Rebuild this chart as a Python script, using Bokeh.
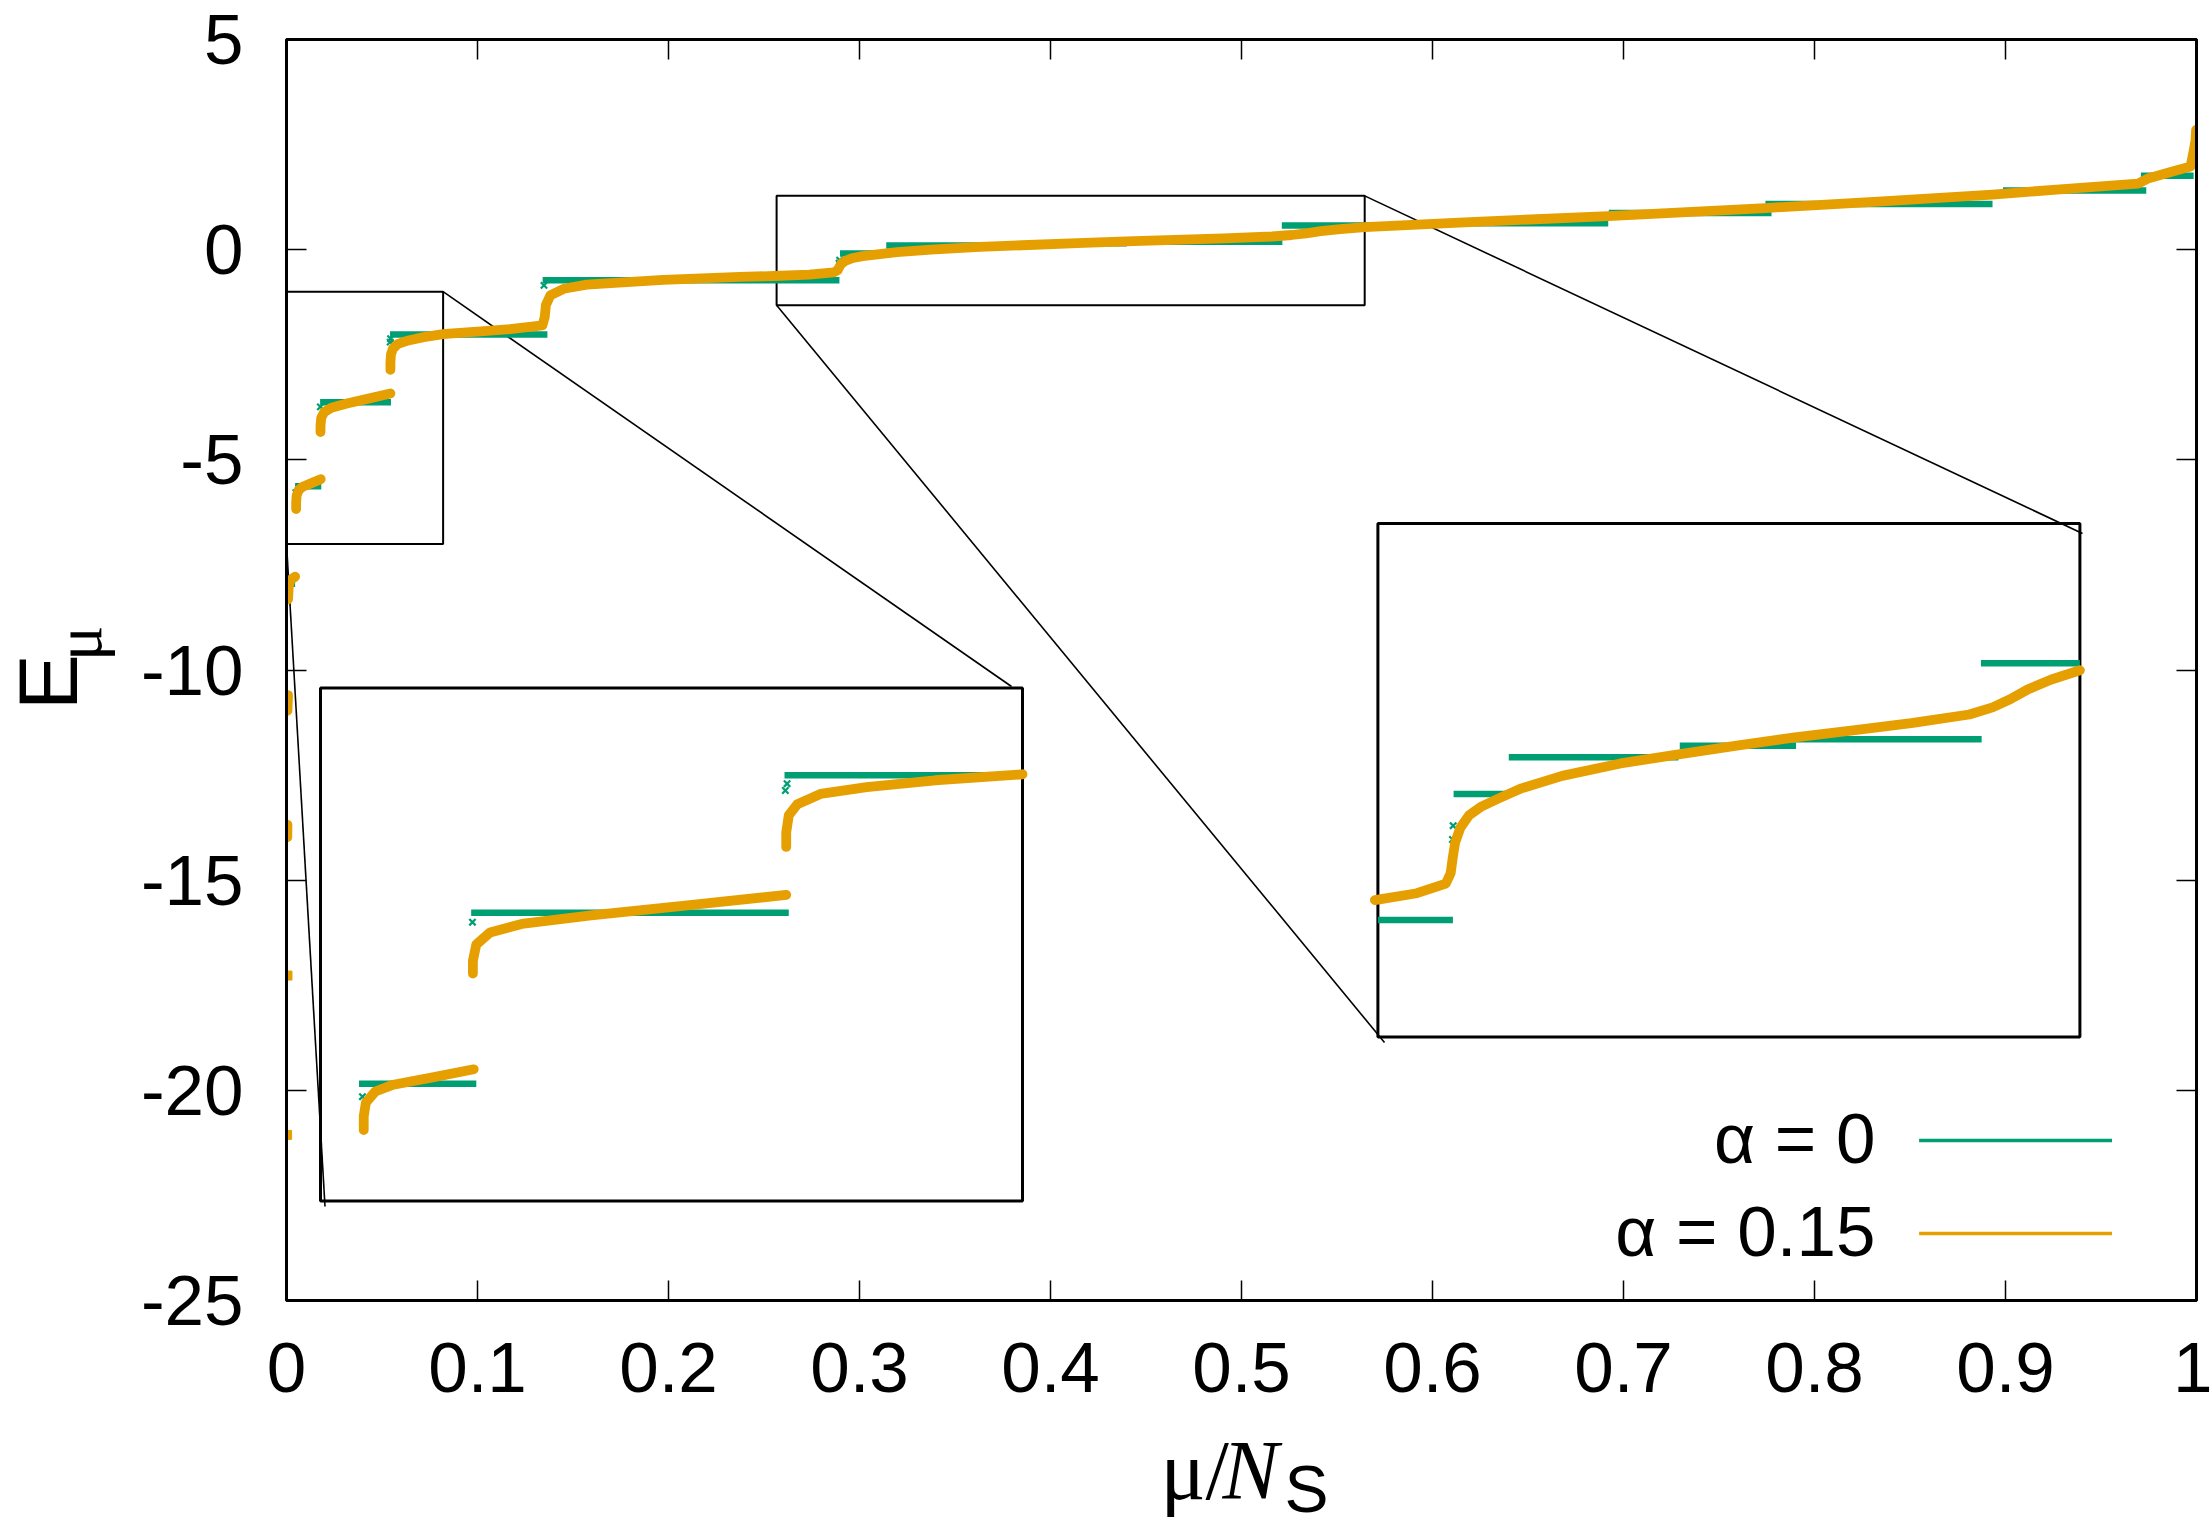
import math
from bokeh.plotting import figure
from bokeh.layouts import row, column
from bokeh.models import Range1d, LinearAxis, FixedTicker, Label
from bokeh.embed import file_html
from bokeh.resources import INLINE

# ---------------- data ----------------
x_ticks = [0, 0.1, 0.2, 0.3, 0.4, 0.5, 0.6, 0.7, 0.8, 0.9, 1]
x_tick_labels = ["0", "0.1", "0.2", "0.3", "0.4", "0.5", "0.6", "0.7", "0.8", "0.9", "1"]
y_ticks = [-25, -20, -15, -10, -5, 0, 5]
y_tick_labels = ["-25", "-20", "-15", "-10", "-5", "0", "5"]

series_labels = ["α = 0", "α = 0.15"]

# alpha = 0 : degenerate plateaus (start mu/N_S, end mu/N_S, energy)
a0_start = [0.0020, 0.0045, 0.0176, 0.0542, 0.1341, 0.2898, 0.3140, 0.3890, 0.4360,
            0.5211, 0.5965, 0.6923, 0.7743, 0.8987, 0.9709]
a0_end = [0.0045, 0.0182, 0.0547, 0.1366, 0.2895, 0.3145, 0.3884, 0.4400, 0.5214,
          0.5963, 0.6920, 0.7775, 0.8932, 0.9737, 0.9985]
a0_E = [-7.95, -5.63, -3.63, -2.02, -0.727, -0.090, 0.097, 0.155, 0.187,
        0.573, 0.63, 0.87, 1.085, 1.41, 1.76]
# alpha = 0 : isolated eigenvalues
a0_pt_x = [0.0003, 0.0005, 0.0007, 0.0010, 0.0049, 0.01775, 0.0543, 0.0545, 0.1348,
           0.2893, 0.2896, 0.9992]
a0_pt_E = [-21.06, -17.27, -13.80, -10.60, -5.78, -3.74, -2.20, -2.12, -0.85,
           -0.32, -0.25, 2.15]

# alpha = 0.15 : isolated eigenvalues and branches
a15_pt_x = [0.0003, 0.0005]
a15_pt_E = [-21.06, -17.27]
a15_b1_x = [0.0004, 0.0005]
a15_b1_E = [-13.98, -13.68]
a15_b2_x = [0.0005, 0.0008]
a15_b2_E = [-10.97, -10.60]
a15_b3_x = [0.0008, 0.0012, 0.0020, 0.0045]
a15_b3_E = [-8.32, -8.00, -7.86, -7.78]
a15_b4_x = [0.00505, 0.00505, 0.0053, 0.0064, 0.0085, 0.0128, 0.0179]
a15_b4_E = [-6.17, -6.01, -5.85, -5.72, -5.64, -5.56, -5.46]
a15_b5_x = [0.0178, 0.0178, 0.0182, 0.0198, 0.0235, 0.0316, 0.0423, 0.0544]
a15_b5_E = [-4.34, -4.19, -4.00, -3.86, -3.76, -3.66, -3.55, -3.42]
a15_b6_x = [0.0544, 0.0544, 0.0547, 0.0557, 0.0584, 0.0638, 0.0718, 0.0820, 0.0870,
            0.1000, 0.1171, 0.1340, 0.1352, 0.1358, 0.1381, 0.1451, 0.1572, 0.1972,
            0.2373, 0.2553, 0.2737, 0.2864, 0.2885, 0.2895, 0.2905, 0.2928, 0.2966,
            0.3017, 0.3094, 0.3196, 0.3374, 0.3630, 0.3885, 0.4140, 0.4395, 0.4650,
            0.4905, 0.5160, 0.5262, 0.5339, 0.5415, 0.5517, 0.5645, 0.6223, 0.6920,
            0.7743, 0.8354, 0.8932, 0.9267, 0.9694, 0.9750, 0.9874, 0.9969, 0.9983,
            0.9995, 0.9998]
a15_b6_E = [-2.86, -2.69, -2.49, -2.36, -2.24, -2.16, -2.08, -2.01, -1.99,
            -1.95, -1.89, -1.80, -1.60, -1.32, -1.09, -0.93, -0.83, -0.72,
            -0.645, -0.627, -0.592, -0.543, -0.491, -0.407, -0.334, -0.260, -0.197,
            -0.155, -0.113, -0.061, 0.002, 0.065, 0.111, 0.155, 0.197, 0.233,
            0.269, 0.313, 0.349, 0.390, 0.439, 0.489, 0.537, 0.66, 0.80,
            0.99, 1.15, 1.31, 1.43, 1.57, 1.70, 1.86, 1.98, 2.30,
            2.60, 2.85]
a15_branches = [(a15_b1_x, a15_b1_E), (a15_b2_x, a15_b2_E), (a15_b3_x, a15_b3_E),
                (a15_b4_x, a15_b4_E), (a15_b5_x, a15_b5_E), (a15_b6_x, a15_b6_E)]

# zoomed regions shown in the two insets
zoom1_x = [0.0, 0.082]
zoom1_E = [-7.0, -1.0]
zoom2_x = [0.2566, 0.5645]
zoom2_E = [-1.32, 1.28]

# ---------------- layout / style ----------------
GREEN = "#009e73"
ORANGE = "#e69f00"
FONT = "Liberation Sans"
SERIF = "Liberation Serif"

PAGE_W, PAGE_H = 2212, 1527
LEFT_W = 118            # strip holding the y title
BOTTOM_H = 113          # strip holding the x title
MAIN_W, MAIN_H = PAGE_W - LEFT_W, PAGE_H - BOTTOM_H
F_LEFT, F_RIGHT, F_TOP, F_BOTTOM = 286, 2196, 39, 1300   # frame in page pixels

XR = (0.0, 1.0)
YR = (-25.0, 5.0)


def dx(px):
    return XR[0] + (px - F_LEFT) / (F_RIGHT - F_LEFT) * (XR[1] - XR[0])


def dy(py):
    return YR[1] - (py - F_TOP) / (F_BOTTOM - F_TOP) * (YR[1] - YR[0])


INSET1_PX = (320.0, 1022.0, 687.4, 1200.5)    # left, right, top, bottom (page px)
INSET2_PX = (1377.4, 2079.4, 523.0, 1036.5)

p = figure(width=MAIN_W, height=MAIN_H, x_range=Range1d(*XR), y_range=Range1d(*YR),
           output_backend="svg", toolbar_location=None,
           min_border_left=F_LEFT - LEFT_W, min_border_right=PAGE_W - F_RIGHT,
           min_border_top=F_TOP, min_border_bottom=MAIN_H - F_BOTTOM,
           background_fill_color="white", border_fill_color="white")
p.xgrid.visible = False
p.ygrid.visible = False
p.outline_line_color = "black"
p.outline_line_width = 3

top_axis = LinearAxis(ticker=FixedTicker(ticks=[], minor_ticks=x_ticks))
right_axis = LinearAxis(ticker=FixedTicker(ticks=[], minor_ticks=y_ticks))
p.add_layout(top_axis, "above")
p.add_layout(right_axis, "right")

bx = p.below[0]
ly = p.left[0]
bx.ticker = FixedTicker(ticks=x_ticks)
ly.ticker = FixedTicker(ticks=y_ticks)

for ax in [bx, ly, top_axis, right_axis]:
    ax.axis_line_width = 3
    ax.axis_line_color = "black"
    ax.major_tick_in = 20
    ax.major_tick_out = 0
    ax.major_tick_line_width = 1.5
    ax.major_tick_line_color = "black"
    ax.major_label_text_font = FONT
    ax.major_label_text_color = "black"
for ax in [bx, ly]:
    ax.minor_tick_line_color = None
for ax in [top_axis, right_axis]:
    ax.minor_tick_in = 20
    ax.minor_tick_out = 0
    ax.minor_tick_line_width = 1.5
    ax.minor_tick_line_color = "black"
    ax.major_label_standoff = 0

bx.major_label_overrides = {t: s for t, s in zip(x_ticks, x_tick_labels)}
bx.major_label_text_font_size = "71px"
bx.major_label_standoff = 42
ly.major_label_overrides = {t: s for t, s in zip(y_ticks, y_tick_labels)}
ly.major_label_text_font_size = "71px"
ly.major_label_standoff = 43

# ---------- zoom rectangles, connectors, inset frames ----------
ins1 = (dx(INSET1_PX[0]), dx(INSET1_PX[1]), dy(INSET1_PX[2]), dy(INSET1_PX[3]))
ins2 = (dx(INSET2_PX[0]), dx(INSET2_PX[1]), dy(INSET2_PX[2]), dy(INSET2_PX[3]))

p.quad(left=[zoom1_x[0], zoom2_x[0]], right=[zoom1_x[1], zoom2_x[1]],
       bottom=[zoom1_E[0], zoom2_E[0]], top=[zoom1_E[1], zoom2_E[1]],
       fill_color=None, line_color="black", line_width=2)

conn_x0 = [zoom1_x[1], zoom1_x[0], zoom2_x[0], zoom2_x[1]]
conn_y0 = [zoom1_E[1], zoom1_E[0], zoom2_E[0], zoom2_E[1]]
conn_x1 = [dx(1011.0), dx(324.5), dx(1384.0), dx(2082.0)]
conn_y1 = [dy(686.0), dy(1206.0), dy(1042.0), dy(533.0)]
p.segment(x0=conn_x0, y0=conn_y0, x1=conn_x1, y1=conn_y1,
          line_color="black", line_width=1.6)

p.quad(left=[ins1[0], ins2[0]], right=[ins1[1], ins2[1]],
       top=[ins1[2], ins2[2]], bottom=[ins1[3], ins2[3]],
       fill_color=None, line_color="black", line_width=3)


def draw_data(api, xr=None, er=None, tol=0.0015):
    def inside(x, E):
        if xr is None:
            return True
        return (xr[0] - tol <= x <= xr[1] + 1e-9) and (er[0] <= E <= er[1])

    # alpha = 0 plateaus
    s0, s1, ss = [], [], []
    for s, e, E in zip(a0_start, a0_end, a0_E):
        if xr is not None:
            if not (er[0] <= E <= er[1]) or e <= xr[0] or s >= xr[1]:
                continue
            s, e = max(s, xr[0]), min(e, xr[1])
        s0.append(s)
        s1.append(e)
        ss.append(E)
    if s0:
        api.segment(x0=s0, y0=ss, x1=s1, y1=ss, line_color=GREEN, line_width=6.5)
    px_, pe_ = [], []
    for x, E in zip(a0_pt_x, a0_pt_E):
        if inside(x, E):
            px_.append(x)
            pe_.append(E)
    if px_:
        api.scatter(px_, pe_, marker="x", size=9, line_color=GREEN, line_width=2.2)

    # alpha = 0.15 branches
    for bxs, bes in a15_branches:
        pts = [(x, E) for x, E in zip(bxs, bes) if inside(x, E)]
        if len(pts) >= 2:
            api.line([q[0] for q in pts], [q[1] for q in pts], line_color=ORANGE,
                     line_width=9.8, line_join="round", line_cap="round")
    qx, qe = [], []
    for x, E in zip(a15_pt_x, a15_pt_E):
        if inside(x, E):
            qx.append(x)
            qe.append(E)
    if qx:
        api.scatter(qx, qe, marker="square", size=9, fill_color=ORANGE, line_color=ORANGE)


# main data
draw_data(p)

# insets
sub1 = p.subplot(x_source=Range1d(*zoom1_x), y_source=Range1d(*zoom1_E),
                 x_target=Range1d(ins1[0], ins1[1]), y_target=Range1d(ins1[3], ins1[2]))
draw_data(sub1, zoom1_x, zoom1_E)
sub2 = p.subplot(x_source=Range1d(*zoom2_x), y_source=Range1d(*zoom2_E),
                 x_target=Range1d(ins2[0], ins2[1]), y_target=Range1d(ins2[3], ins2[2]))
draw_data(sub2, zoom2_x, zoom2_E)

# ---------------- legend ----------------
leg_text_py = [1138.0, 1231.0]
leg_line_py = [1140.0, 1233.0]
for lab, col, ty, lyy in zip(series_labels, [GREEN, ORANGE], leg_text_py, leg_line_py):
    p.add_layout(Label(x=dx(1875.0), y=dy(ty), text=lab, text_align="right",
                       text_baseline="middle", text_font=FONT,
                       text_font_size="71px", text_color="black"))
    p.segment(x0=[dx(1918.6)], y0=[dy(lyy)], x1=[dx(2111.5)], y1=[dy(lyy)],
              line_color=col, line_width=3.3)


# ---------------- axis titles (in strips beside the main figure) ----------------
def strip(w, h, x0, y0):
    s = figure(width=w, height=h, x_range=Range1d(x0, x0 + w), y_range=Range1d(y0 + h, y0),
               output_backend="svg", toolbar_location=None,
               x_axis_location=None, y_axis_location=None,
               min_border_left=0, min_border_right=0, min_border_top=0, min_border_bottom=0,
               background_fill_color="white", border_fill_color="white")
    s.outline_line_color = None
    s.grid.visible = False
    return s


left_strip = strip(LEFT_W, MAIN_H, 0, 0)
left_strip.add_layout(Label(x=47.0, y=752.0, text="E", angle=math.pi / 2,
                            text_align="left", text_baseline="middle", text_font=FONT,
                            text_font_size="84px", text_color="black"))
left_strip.add_layout(Label(x=78.0, y=697.0, text="μ", angle=math.pi / 2,
                            text_align="left", text_baseline="middle", text_font=SERIF,
                            text_font_size="66px", text_color="black"))

bottom_strip = strip(PAGE_W, BOTTOM_H, 0, MAIN_H)
bottom_strip.add_layout(Label(x=1160.0, y=1470.0, text="μ/", text_align="left",
                              text_baseline="middle", text_font=SERIF,
                              text_font_size="84px", text_color="black"))
bottom_strip.add_layout(Label(x=1222.0, y=1470.0, text="N", text_align="left",
                              text_baseline="middle", text_font=SERIF,
                              text_font_style="italic", text_font_size="84px",
                              text_color="black"))
bottom_strip.add_layout(Label(x=1284.0, y=1488.0, text="S", text_align="left",
                              text_baseline="middle", text_font=FONT,
                              text_font_size="66px", text_color="black"))

layout = column(row(left_strip, p, spacing=0), bottom_strip, spacing=0)

open("out.html", "w").write(file_html(layout, INLINE))
